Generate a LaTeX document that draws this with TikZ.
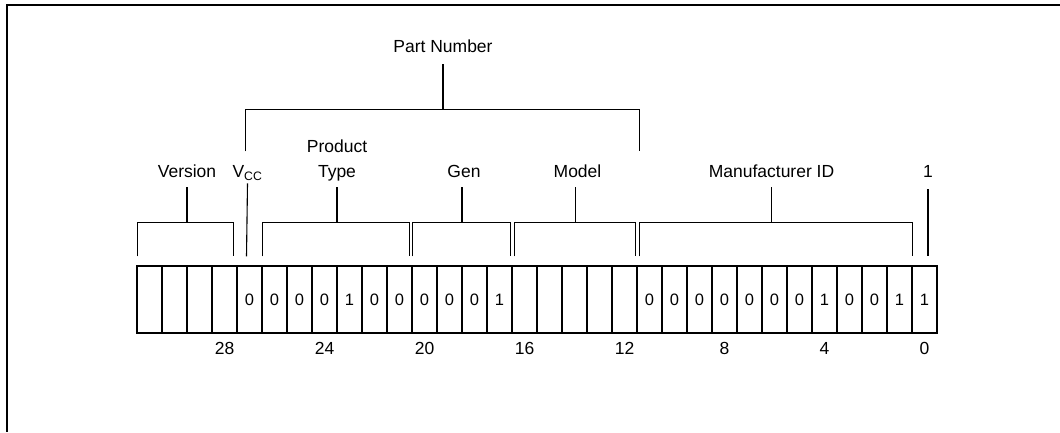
\documentclass[tikz,border=0pt]{standalone}
\usepackage{fontspec}
\setmainfont{Liberation Sans}
\usetikzlibrary{positioning,calc}

\begin{document}
\begin{tikzpicture}[x=1pt, y=-1pt,
    every node/.style={font=\fontsize{17.5}{25}\selectfont},
    lbl/.style={inner sep=0pt, anchor=base},
    bitcell/.style={draw, line width=1.1pt, minimum width=25pt, minimum height=67pt, inner sep=0pt, font=\fontsize{16.5}{18}\selectfont},
    nibble/.style={line width=1.8pt},
    field/.style={line width=1.1pt}]
    \useasboundingbox (0,0) rectangle (1060,432);
    \draw[line width=1.8pt] (1060,5) -- (7,5) -- (7,432);

    % register cells, bit 31 on the left
    \foreach \b/\v in {31/{},30/{},29/{},28/{},27/0,26/0,25/0,24/0,23/1,22/0,21/0,20/0,19/0,18/0,17/1,
        16/{},15/{},14/{},13/{},12/{},11/0,10/0,9/0,8/0,7/0,6/0,5/0,4/1,3/0,2/0,1/1,0/1}
        \node[bitcell] (b\b) at ({149.5+25*(31-\b)},299.5) {\v};
    \foreach \b in {27,23,...,3}
        \draw[nibble] (b\b.north west) -- (b\b.south west);
    \draw[nibble] (b31.north west) rectangle (b0.south east);

    % bit numbers
    \foreach \b in {28,24,...,0}
        \node (n\b) at ([yshift=-15pt]b\b.south) {\b};

    % field labels
    \node[lbl] (version) at ($(b31.north west)!.5!(b28.north east)+(0,-87.5)$) {Version};
    \node[lbl] (vcc) at ($(b27.north)+(-2,-87.5)$) {V\textsubscript{CC}};
    \node[inner sep=0pt, anchor=south, align=center] (ptype) at ($(b26.north west)!.5!(b21.north east)+(0,-84)$) {Product\\Type};
    \node[lbl] (gen) at ($(b20.north west)!.5!(b17.north east)+(2,-87.5)$) {Gen};
    \node[lbl] (model) at ($(b16.north west)!.5!(b12.north east)+(3,-87.5)$) {Model};
    \node[lbl] (mfrid) at ($(b11.north west)!.5!(b1.north east)+(-3,-87.5)$) {Manufacturer ID};
    \node[lbl] (lsb) at ($(b0.north)+(3.5,-87.5)$) {1};
    \node[lbl] (partno) at ($(b27.north)!.5!(b11.north west)+(0,-212.7)$) {Part Number};

    % brackets
    \draw[field] ([shift={(1pt,9pt)}]b31.north west) -- ++(0,-34) coordinate (vtop) -| ([shift={(-4pt,9pt)}]b28.north east);
    \draw[field] ([yshift=-9.5pt]version.base) -- (version.base |- vtop);
    \draw[field] ([shift={(-3pt,9pt)}]b27.north) -- ([yshift=-5.5pt]vcc.base);
    \draw[field] ([shift={(1pt,9pt)}]b26.north west) -- ++(0,-34) coordinate (ptop) -| ([shift={(-3pt,9pt)}]b21.north east);
    \draw[field] ([yshift=-6pt]ptype.south) -- (ptype.south |- ptop);
    \draw[field] ([shift={(1pt,9pt)}]b20.north west) -- ++(0,-34) coordinate (gtop) -| ([shift={(-2pt,9pt)}]b17.north east);
    \draw[field] ([shift={(-2pt,-9.5pt)}]gen.base) -- ([xshift=-2pt]gen.base |- gtop);
    \draw[field] ([shift={(3pt,9pt)}]b16.north west) -- ++(0,-34) coordinate (mtop) -| ([shift={(-2pt,9pt)}]b12.north east);
    \draw[field] ([shift={(-2pt,-9.5pt)}]model.base) -- ([xshift=-2pt]model.base |- mtop);
    \draw[field] ([shift={(3pt,9pt)}]b11.north west) -- ++(0,-34) coordinate (itop) -| ([yshift=9pt]b1.north east);
    \draw[field] ([yshift=-9.5pt]mfrid.base) -- (mfrid.base |- itop);
    \draw[field] ([yshift=-11.5pt]lsb.base) -- ([shift={(3.5pt,9pt)}]b0.north);
    \draw[field] ([shift={(-4pt,114pt)}]b27.north) -- ++(0,-42) coordinate (pntop) -| ([shift={(3pt,114pt)}]b11.north west);
    \draw[field] ([yshift=-11.7pt]partno.base) -- (partno.base |- pntop);
\end{tikzpicture}
\end{document}
